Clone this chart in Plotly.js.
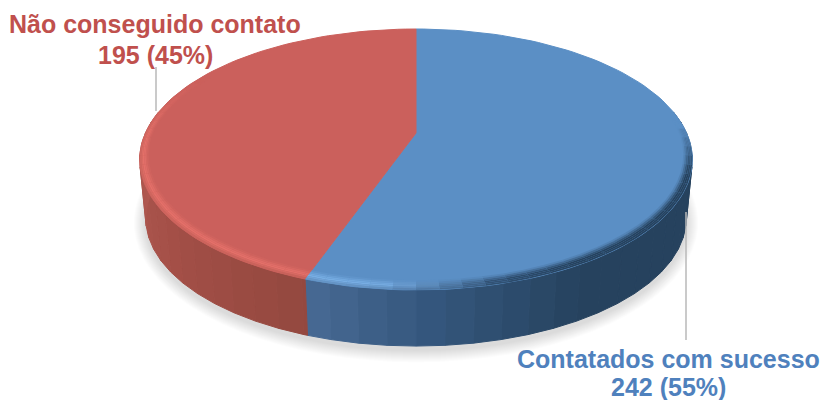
<!DOCTYPE html>
<html>
<head>
<meta charset="utf-8">
<script src="https://cdn.plot.ly/plotly-3.0.1.min.js"></script>
<style>html,body{margin:0;padding:0;background:#fff}#chart{width:825px;height:400px}</style>
</head>
<body>
<div id="chart"></div>
<script>
// Outcome of the contact attempts
const categories = ['Contatados com sucesso', 'Não conseguido contato'];
const counts = [242, 195];
const percents = [55, 45];
const textColors = ['#4f81bd', '#c0504d'];
const faceColors = [[91, 143, 197], [203, 96, 92]];
const glowColors = [[122, 176, 230], [230, 113, 106]];

const total = counts.reduce((a, b) => a + b, 0);
const splitAngle = counts[0] / total * 360;

// Side wall shade by clockwise angle from 12 o'clock
const wallStops = [
  [70, [38, 66, 94]], [150, [38, 66, 94]], [177, [52, 86, 124]],
  [splitAngle, [72, 106, 148]],
  [splitAngle + 0.01, [148, 72, 63]], [235, [165, 80, 72]], [275, [178, 90, 82]], [290, [178, 90, 82]]
];

// Perspective disc: tilt, centre and wall depth in axis units
const disc = {cx: 416, cy: 133, sx: 270.6, sy: 125.1, k: 0.203, midY: 158.5, shrink: 0.978, drop: 59};

const project = (phi, r) => {
  const a = phi * Math.PI / 180;
  const u = r * Math.sin(a), v = -r * Math.cos(a), w = 1 - disc.k * v;
  return [disc.cx + disc.sx * u / w, disc.cy + disc.sy * v / w];
};
const lower = (p, grow = 0, shift = 0) => [
  disc.cx + disc.shrink * (p[0] - disc.cx) * (1 + grow / 270),
  disc.midY + disc.shrink * (p[1] - disc.midY) * (1 + grow / 125) + disc.drop + shift
];
const mix = (a, b, t) => a.map((c, i) => c + (b[i] - c) * t);
const css = c => `rgb(${c.map(Math.round).join(',')})`;
const wallColor = phi => {
  for (let i = 1; i < wallStops.length; i++) {
    if (phi <= wallStops[i][0]) {
      const [p0, c0] = wallStops[i - 1], [p1, c1] = wallStops[i];
      return mix(c0, c1, (phi - p0) / (p1 - p0));
    }
  }
  return wallStops[wallStops.length - 1][1];
};
const clamp = t => Math.max(0, Math.min(1, t));

const traces = [];
const polygon = (pts, fill, lineColor) => traces.push({
  type: 'scatter', mode: 'lines', x: pts.map(p => p[0]).concat(pts[0][0]), y: pts.map(p => p[1]).concat(pts[0][1]),
  fill: 'toself', fillcolor: fill, hoverinfo: 'skip', showlegend: false,
  line: lineColor ? {color: lineColor, width: 1} : {width: 0}
});
const angles = (from, to, step) => {
  const list = [];
  for (let p = from; p < to; p += step) list.push(p);
  list.push(to);
  return list;
};

// Soft drop shadow beneath the wall
for (let n = 12; n >= 1; n -= 1) {
  polygon(angles(0, 360, 4).map(p => lower(project(p, 1), n, 4)), 'rgba(0,0,0,0.01)');
}

// Side wall, one flat facet at a time
const wallAngles = [...new Set(angles(80, 280, 5).concat(splitAngle))].sort((a, b) => a - b);
for (let i = 0; i < wallAngles.length - 1; i++) {
  const p0 = wallAngles[i], p1 = wallAngles[i + 1];
  const c = css(wallColor((p0 + p1) / 2));
  polygon([project(p0, 1), project(p1, 1), lower(project(p1, 1)), lower(project(p0, 1))], c, c);
}

// Top face, one wedge per category
[[0, splitAngle], [splitAngle, 360]].forEach(([from, to], i) => {
  const c = css(faceColors[i]);
  polygon([project(0, 0)].concat(angles(from, to, 2).map(p => project(p, 1))), c, c);
});

// Bevelled rim along the near edge, thinner towards the sides
const rings = 6;
const rimWidth = phi => 0.05 * (0.55 + 0.45 * Math.abs(Math.cos(phi * Math.PI / 180)));
const rimAngles = [...new Set(angles(84, 300, 4).concat(splitAngle))].sort((a, b) => a - b);
for (let i = 0; i < rimAngles.length - 1; i++) {
  const p0 = rimAngles[i], p1 = rimAngles[i + 1], mid = (p0 + p1) / 2;
  const s = mid < splitAngle ? 0 : 1;
  const face = faceColors[s], wall = wallColor(mid);
  const glow = s === 0 ? clamp((mid - 165) / 22) : 1;
  const crest = mix(wall, glowColors[s], glow);
  const fade = clamp((mid - 86) / 22) * clamp((298 - mid) / 30);
  const w0 = rimWidth(p0), w1 = rimWidth(p1);
  for (let j = 0; j < rings; j++) {
    const t = (j + 0.5) / rings;
    const shade = t < 0.55 ? mix(face, crest, t / 0.55) : mix(crest, wall, (t - 0.55) / 0.45 * 0.45);
    const c = css(mix(face, shade, fade));
    polygon([
      project(p0, 1 - w0 + w0 * j / rings), project(p1, 1 - w1 + w1 * j / rings),
      project(p1, 1 - w1 + w1 * (j + 1) / rings), project(p0, 1 - w0 + w0 * (j + 1) / rings)
    ], c);
  }
}

// Leader lines from the labels to the slices
const leaderX = [[686, 686], [156, 156]];
const leaderY = [[212, 340], [67, 111]];
leaderX.forEach((x, i) => traces.push({
  type: 'scatter', mode: 'lines', x, y: leaderY[i], hoverinfo: 'skip', showlegend: false,
  line: {color: '#b8b8b8', width: 1.5}
}));

// Each label has a name line above a value line
const labelX = [668, 155];
const nameY = [359, 24];
const valueY = [387, 55];
const labelFont = i => ({family: '"Liberation Sans", Arial, sans-serif', size: 25, color: textColors[i]});
const annotations = categories.flatMap((name, i) => [
  [`<b>${name}</b>`, nameY[i]],
  [`<b>${counts[i]} (${percents[i]}%)</b>`, valueY[i]]
].map(([text, y]) => ({
  x: labelX[i], y, xref: 'x', yref: 'y', xanchor: 'center', yanchor: 'middle', showarrow: false,
  text, font: labelFont(i)
})));

const hidden = {visible: false, fixedrange: true};
Plotly.newPlot('chart', traces, {
  width: 825, height: 400, margin: {l: 0, r: 0, t: 0, b: 0},
  paper_bgcolor: '#fff', plot_bgcolor: '#fff', showlegend: false,
  xaxis: Object.assign({range: [0, 825]}, hidden),
  yaxis: Object.assign({range: [400, 0]}, hidden),
  annotations
}, {displayModeBar: false, staticPlot: true});
</script>
</body>
</html>
